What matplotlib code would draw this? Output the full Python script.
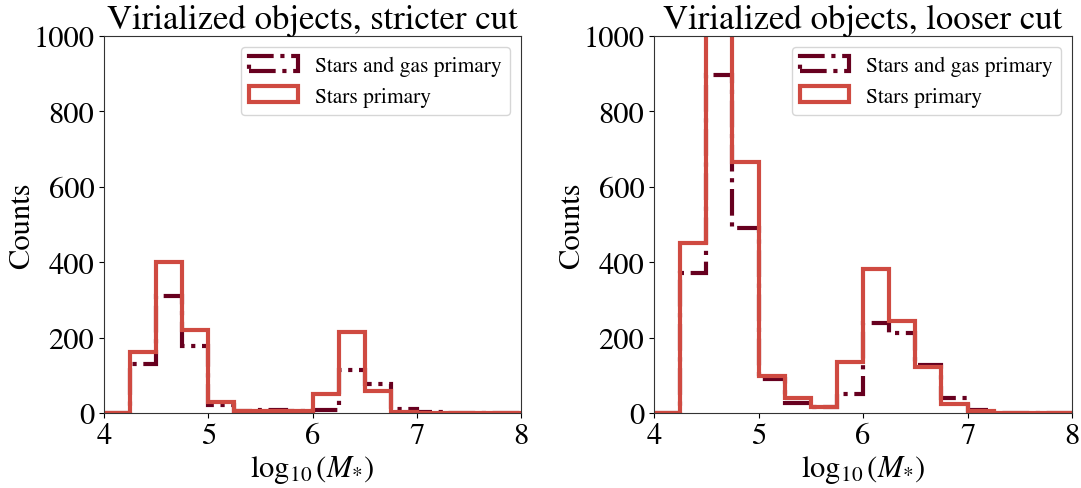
import numpy as np
import matplotlib.pyplot as plt

plt.rcParams['font.family'] = 'serif'
plt.rcParams['font.serif'] = ['STIXGeneral', 'Liberation Serif', 'DejaVu Serif']
plt.rcParams['mathtext.fontset'] = 'stix'

# bin edges in log10(M*)
edges = np.arange(4.0, 8.0 + 0.001, 0.25)

# counts per bin, stricter cut
strict_gas = [0, 130, 310, 178, 22, 5, 7, 5, 8, 114, 77, 11, 2, 0, 0, 0]
strict_stars = [0, 162, 400, 220, 30, 5, 5, 5, 50, 214, 59, 3, 1, 0, 0, 0]

# counts per bin, looser cut
loose_gas = [0, 371, 897, 490, 90, 26, 16, 51, 240, 212, 127, 41, 9, 0, 0, 0]
loose_stars = [0, 450, 1150, 666, 98, 39, 16, 134, 383, 245, 121, 25, 4, 0, 0, 0]

titles = ['Virialized objects, stricter cut', 'Virialized objects, looser cut']
c_gas = '#67001f'
c_stars = '#cf4a41'

fig = plt.figure(figsize=(10.81, 4.89), dpi=100)
ax1 = fig.add_axes([0.0962, 0.1534, 0.3858, 0.7709])
ax2 = fig.add_axes([0.6050, 0.1534, 0.3867, 0.7709])

centers = edges[:-1] + 0.125
for ax, gas, stars, title in zip([ax1, ax2], [strict_gas, loose_gas],
                                 [strict_stars, loose_stars], titles):
    ax.hist(centers, bins=edges, weights=gas, histtype='step', color=c_gas,
            lw=3, ls='-.', label='Stars and gas primary')
    ax.hist(centers, bins=edges, weights=stars, histtype='step', color=c_stars,
            lw=3, label='Stars primary')
    ax.set_xlim(4, 8)
    ax.set_ylim(0, 1000)
    ax.set_xticks([4, 5, 6, 7, 8])
    ax.set_yticks([0, 200, 400, 600, 800, 1000])
    ax.tick_params(labelsize=22)
    ax.set_title(title, fontsize=25, pad=4)
    ax.set_xlabel(r'$\log_{10}(M_{*})$', fontsize=22, labelpad=2)
    ax.set_ylabel('Counts', fontsize=22, labelpad=-2)
    for s in ax.spines.values():
        s.set_color('#333333')
    ax.legend(loc='upper right', fontsize=15.5, handlelength=2.25)

fig.savefig('out.png', dpi=100)
